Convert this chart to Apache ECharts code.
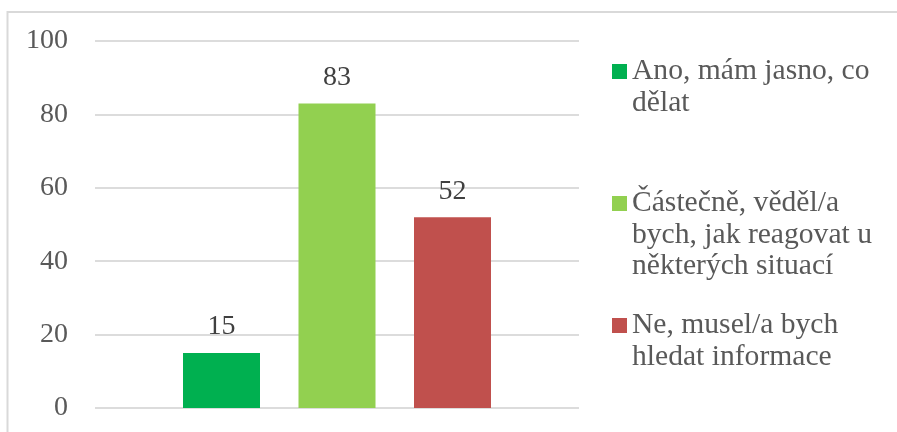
<!DOCTYPE html>
<html>
<head>
<meta charset="utf-8">
<script src="https://cdn.jsdelivr.net/npm/echarts@6/dist/echarts.min.js"></script>
<style>html,body{margin:0;padding:0;background:#fff;}#c{width:897px;height:432px;}</style>
</head>
<body>
<div id="c"></div>
<script>
const categories = [''];
const seriesNames = ['Ano, mám jasno, co dělat', 'Částečně, věděl/a bych, jak reagovat u některých situací', 'Ne, musel/a bych hledat informace'];
const legendLines = [
  ['Ano, mám jasno, co', 'dělat'],
  ['Částečně, věděl/a', 'bych, jak reagovat u', 'některých situací'],
  ['Ne, musel/a bych', 'hledat informace']
];
const seriesValues = [[15], [83], [52]];
const seriesColors = ['#00b050', '#92d050', '#c0504d'];
const yTicks = [0, 20, 40, 60, 80, 100];

const FONT = "'Liberation Serif', 'Times New Roman', serif";
const LH = 31.5;
const iconTops = [64, 196, 318];

const chart = echarts.init(document.getElementById('c'), null, {renderer: 'canvas'});

const legends = seriesNames.map((name, i) => {
  const n = legendLines[i].length;
  const textTop = 7.5 - (2 * n - 1) * LH / 2;
  const blank = new Array(n - 1).fill(' ');
  return {
    show: true,
    data: [name],
    orient: 'vertical',
    left: 612,
    top: iconTops[i] + textTop,
    padding: 0,
    itemWidth: 15,
    itemHeight: 15,
    icon: 'rect',
    selectedMode: false,
    formatter: () => blank.concat(legendLines[i]).join('\n'),
    textStyle: {
      fontFamily: FONT,
      fontSize: 29.6,
      lineHeight: LH,
      color: '#595959'
    }
  };
});

const option = {
  backgroundColor: '#ffffff',
  animation: false,
  grid: {left: 95, right: 318, top: 41, bottom: 24, containLabel: false},
  legend: legends,
  xAxis: {
    type: 'category',
    data: categories,
    axisLine: {show: false},
    axisTick: {show: false},
    axisLabel: {show: false}
  },
  yAxis: {
    type: 'value',
    min: yTicks[0],
    max: yTicks[yTicks.length - 1],
    interval: yTicks[1] - yTicks[0],
    axisLine: {show: false},
    axisTick: {show: false},
    axisLabel: {margin: 27, fontFamily: FONT, fontSize: 28, color: '#595959'},
    splitLine: {lineStyle: {color: '#dcdcdc', width: 2}}
  },
  series: seriesNames.map((name, i) => ({
    type: 'bar',
    name: name,
    data: seriesValues[i],
    barWidth: 77,
    barGap: '50%',
    itemStyle: {color: seriesColors[i]},
    label: {
      show: true,
      position: 'top',
      distance: 12,
      fontFamily: FONT,
      fontSize: 28,
      color: '#404040'
    }
  })),
  graphic: [
    {type: 'line', silent: true, z: -10, shape: {x1: 7.5, y1: 12, x2: 897, y2: 12}, style: {stroke: '#d9d9d9', lineWidth: 2}},
    {type: 'line', silent: true, z: -10, shape: {x1: 7.5, y1: 11, x2: 7.5, y2: 432}, style: {stroke: '#d9d9d9', lineWidth: 2}}
  ]
};
chart.setOption(option);
</script>
</body>
</html>
